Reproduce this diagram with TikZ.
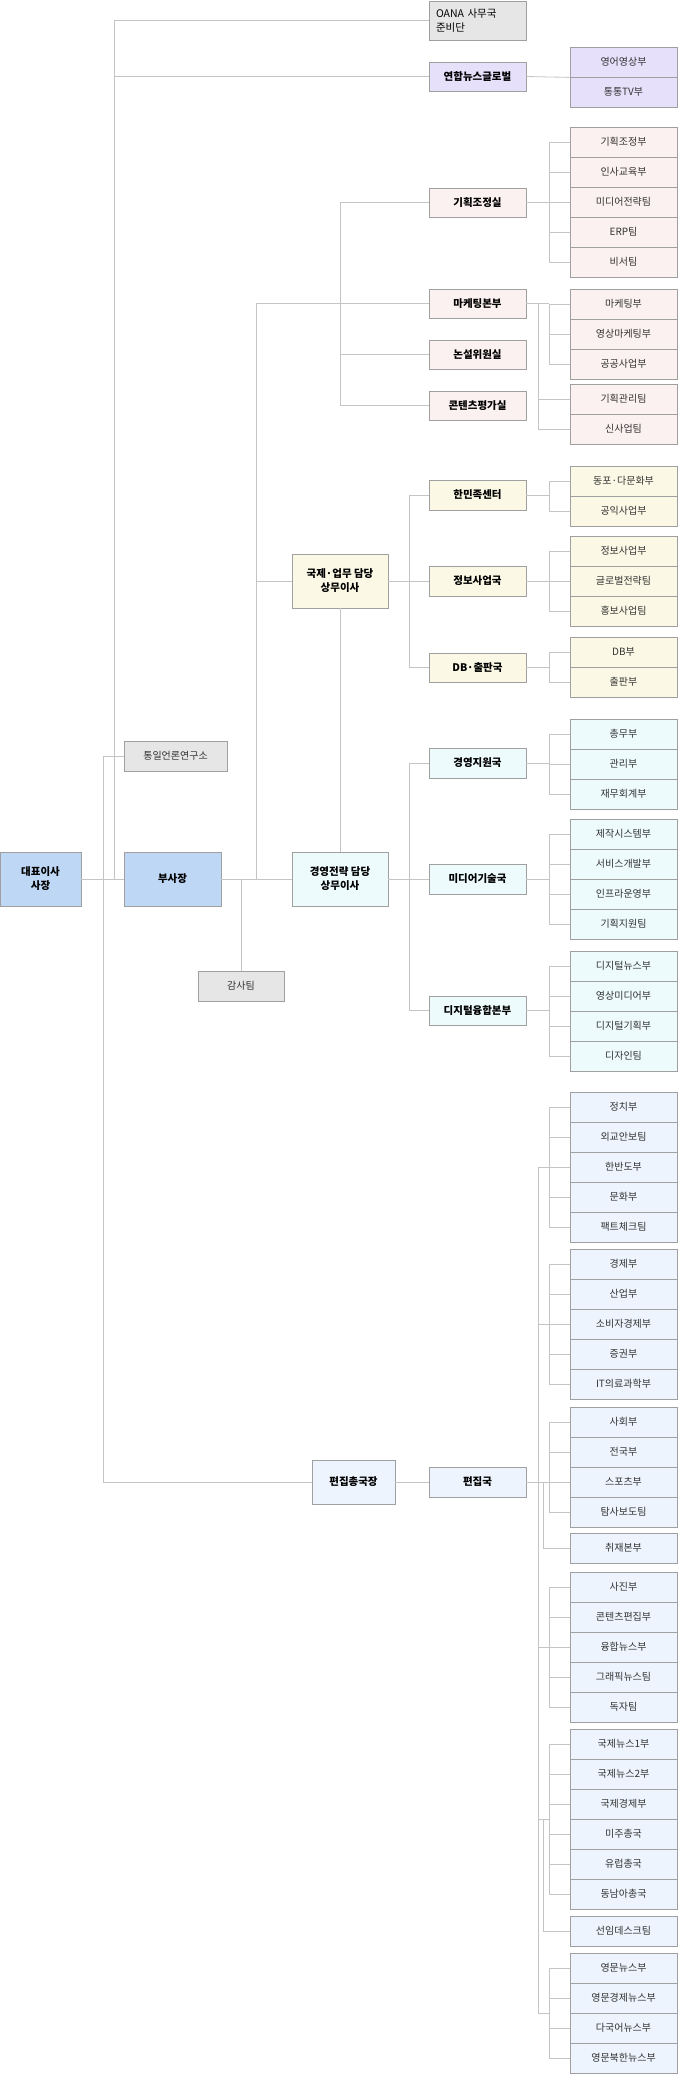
\documentclass[tikz,border=0pt]{standalone}
\usepackage{fontspec}
\setmainfont{Noto Sans CJK KR}
\definecolor{lc}{HTML}{C4C4C4}
\definecolor{bc}{HTML}{A0A0A0}
\definecolor{cgray}{HTML}{E6E6E6}
\definecolor{clav}{HTML}{E7E0FB}
\definecolor{cpink}{HTML}{FCF1F1}
\definecolor{cyel}{HTML}{FBF9E5}
\definecolor{ccyan}{HTML}{EEFBFD}
\definecolor{cblue}{HTML}{BDD7F4}
\definecolor{ceb}{HTML}{EDF4FD}
\tikzset{x=1pt,y=-1pt,
 ln/.style={draw=lc,line width=0.8pt},
 sub/.style={draw=bc,line width=0.8pt,inner sep=0pt,font=\fontsize{10}{12}\selectfont,text=black!80},
 mid/.style={draw=bc,line width=0.8pt,inner sep=0pt,align=center,font=\bfseries\fontsize{10.5}{14}\selectfont}}
\newcommand\bx[7]{\node[#6,minimum width={(#4-#2)*1pt},minimum height={(#5-#3)*1pt}] (#1) at ({(#2+#4)/2},{(#3+#5)/2}) {#7};}
\newcommand\stk[3]{\foreach \t [count=\i] in {#3} {\node[sub,fill=#2,minimum width=107pt,minimum height=30pt] (#1\i) at (623.5,{\y0+30*(\i-0.5)}) {\t};}}
\newcommand\brk[2]{\draw[ln] (#11.west -| c549) -- (#1#2.west -| c549);
 \foreach \i in {1,...,#2} {\draw[ln] (#1\i.west -| c549) -- (#1\i.west);}}
\begin{document}
\begin{tikzpicture}
\fill[white] (0,0) rectangle (689,2074);
\useasboundingbox (0,0) rectangle (689,2074);
\coordinate (c103) at (103,0);\coordinate (c114) at (114,0);\coordinate (c256) at (256,0);
\coordinate (c340) at (340,0);\coordinate (c409) at (409,0);\coordinate (c538) at (538,0);
\coordinate (c543) at (543,0);\coordinate (c549) at (549,0);
% mid boxes
\node[mid,fill=cgray,minimum width=97pt,minimum height=39pt,align=left,text width=83pt,font=\fontsize{10.5}{14}\selectfont] (oana) at (477.5,20.5) {OANA 사무국\\준비단};
\bx{yg}{429}{62}{526}{91}{mid,fill=clav}{연합뉴스글로벌}
\bx{kjs}{429}{188}{526}{217}{mid,fill=cpink}{기획조정실}
\bx{mkb}{429}{289}{526}{318}{mid,fill=cpink}{마케팅본부}
\bx{nsw}{429}{340}{526}{369}{mid,fill=cpink}{논설위원실}
\bx{ktp}{429}{391}{526}{420}{mid,fill=cpink}{콘텐츠평가실}
\bx{hmc}{429}{480}{526}{510}{mid,fill=cyel}{한민족센터}
\bx{jbg}{429}{566}{526}{596}{mid,fill=cyel}{정보사업국}
\bx{dbc}{429}{653}{526}{682}{mid,fill=cyel}{DB·출판국}
\bx{gyj}{429}{748}{526}{778}{mid,fill=ccyan}{경영지원국}
\bx{mdg}{429}{864}{526}{894}{mid,fill=ccyan}{미디어기술국}
\bx{dgh}{429}{996}{526}{1025}{mid,fill=ccyan}{디지털융합본부}
\bx{pjg}{429}{1467}{526}{1497}{mid,fill=ceb}{편집국}
\bx{gjd}{292}{554}{388}{608}{mid,fill=cyel}{국제·업무 담당\\상무이사}
\bx{gyd}{292}{852}{388}{906}{mid,fill=ccyan}{경영전략 담당\\상무이사}
\bx{pjc}{312}{1460}{395}{1504}{mid,fill=ceb}{편집총국장}
\bx{ceo}{0}{852}{81}{906}{mid,fill=cblue}{대표이사\\사장}
\bx{vp}{124}{852}{221}{906}{mid,fill=cblue}{부사장}
\bx{tong}{124}{741}{227}{771}{sub,fill=cgray}{통일언론연구소}
\bx{gam}{198}{971}{284}{1001}{sub,fill=cgray}{감사팀}
% stacks
\def\y0{47}\stk{yy}{clav}{영어영상부,통통TV부}
\def\y0{127}\stk{kj}{cpink}{기획조정부,인사교육부,미디어전략팀,ERP팀,비서팀}
\def\y0{289}\stk{mka}{cpink}{마케팅부,영상마케팅부,공공사업부}
\def\y0{384}\stk{mkb}{cpink}{기획관리팀,신사업팀}
\def\y0{466}\stk{hm}{cyel}{동포·다문화부,공익사업부}
\def\y0{536}\stk{jb}{cyel}{정보사업부,글로벌전략팀,홍보사업팀}
\def\y0{637}\stk{db}{cyel}{DB부,출판부}
\def\y0{719}\stk{gy}{ccyan}{총무부,관리부,재무회계부}
\def\y0{819}\stk{md}{ccyan}{제작시스템부,서비스개발부,인프라운영부,기획지원팀}
\def\y0{951}\stk{dg}{ccyan}{디지털뉴스부,영상미디어부,디지털기획부,디자인팀}
\def\y0{1092}\stk{ea}{ceb}{정치부,외교안보팀,한반도부,문화부,팩트체크팀}
\def\y0{1249}\stk{eb}{ceb}{경제부,산업부,소비자경제부,증권부,IT의료과학부}
\def\y0{1407}\stk{ec}{ceb}{사회부,전국부,스포츠부,탐사보도팀}
\def\y0{1533}\stk{ed}{ceb}{취재본부}
\def\y0{1572}\stk{ee}{ceb}{사진부,콘텐츠편집부,융합뉴스부,그래픽뉴스팀,독자팀}
\def\y0{1729}\stk{ef}{ceb}{국제뉴스1부,국제뉴스2부,국제경제부,미주총국,유럽총국,동남아총국}
\def\y0{1916}\stk{eg}{ceb}{선임데스크팀}
\def\y0{1953}\stk{eh}{ceb}{영문뉴스부,영문경제뉴스부,다국어뉴스부,영문북한뉴스부}
% top-level connectors
\draw[ln] (ceo.east) -- (vp.west);
\draw[ln] (oana.west) -- (oana.west -| c114) -- (vp.west -| c114);
\draw[ln] (yg.west) -- (yg.west -| c114);
\draw[ln] (tong.west) -- (tong.west -| c103) -- (pjc.west -| c103) -- (pjc.west);
\draw[ln] (vp.east) -- (gyd.west);
\draw[ln] (mkb.west) -- (mkb.west -| c256) -- (vp.east -| c256);
\draw[ln] (gjd.west) -- (gjd.west -| c256);
\draw[ln] (gam.north) -- (gam.north |- vp.east);
\draw[ln] (kjs.west) -- (kjs.west -| c340) -- (ktp.west -| c340) -- (ktp.west);
\draw[ln] (nsw.west) -- (nsw.west -| c340);
\draw[ln] (gjd.south) -- (gyd.north);
\draw[ln] (hmc.west) -- (hmc.west -| c409) -- (dbc.west -| c409) -- (dbc.west);
\draw[ln] (gjd.east) -- (jbg.west);
\draw[ln] (gyj.west) -- (gyj.west -| c409) -- (dgh.west -| c409) -- (dgh.west);
\draw[ln] (gyd.east) -- (mdg.west);
% brackets
\draw[ln] (yg.east) -- (yy1.south west);
\draw[ln] (kjs.east) -- (kjs.east -| c549); \brk{kj}{5}
\draw[ln] (mkb.east) -- (mkb.east -| c549); \brk{mka}{3}
\draw[ln] (mkb.east -| c538) |- (mkb2.west); \draw[ln] (mkb1.west -| c538) -- (mkb1.west);
\draw[ln] (hmc.east) -- (hmc.east -| c549); \brk{hm}{2}
\draw[ln] (jbg.east) -- (jbg.east -| c549); \brk{jb}{3}
\draw[ln] (dbc.east) -- (dbc.east -| c549); \brk{db}{2}
\draw[ln] (gyj.east) -- (gyj.east -| c549); \brk{gy}{3}
\draw[ln] (mdg.east) -- (mdg.east -| c549); \brk{md}{4}
\draw[ln] (dgh.east) -- (dgh.east -| c549); \brk{dg}{4}
% editorial
\draw[ln] (pjc.east) -- (pjg.west);
\draw[ln] (pjg.east) -- (ec3.west);
\draw[ln] (ea3.west -| c538) -- (eh2.south -| c538);
\draw[ln] (ea3.west -| c538) -- (ea3.west -| c549); \brk{ea}{5}
\draw[ln] (eb3.west -| c538) -- (eb3.west -| c549); \brk{eb}{5}
\brk{ec}{4}
\draw[ln] (pjg.east -| c543) |- (ed1.west);
\draw[ln] (ee3.west -| c538) -- (ee3.west -| c549); \brk{ee}{5}
\draw[ln] (ef3.south -| c538) -- (ef3.south -| c549); \brk{ef}{6}
\draw[ln] (ef3.south -| c543) |- (eg1.west);
\draw[ln] (eh2.south -| c538) -- (eh2.south -| c549); \brk{eh}{4}
\end{tikzpicture}
\end{document}
